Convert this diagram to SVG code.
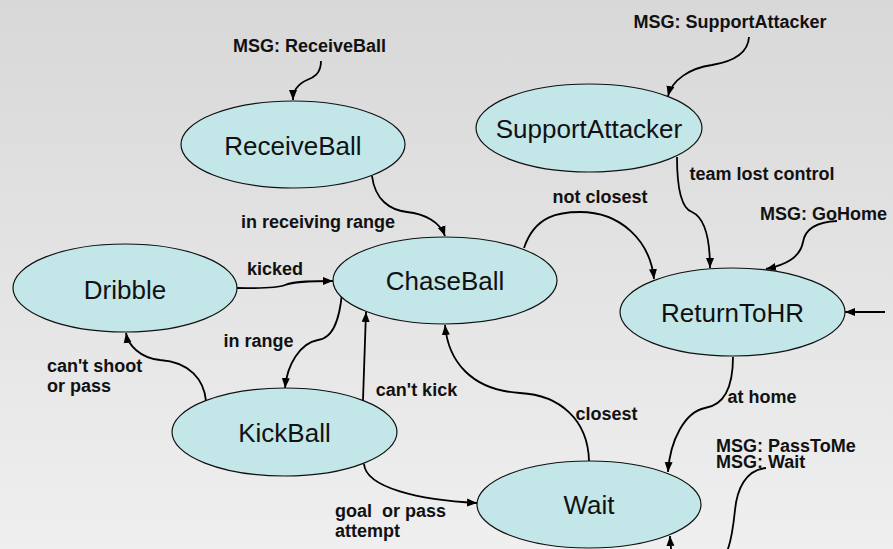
<svg xmlns="http://www.w3.org/2000/svg" width="893" height="549" viewBox="0 0 893 549">
<defs>
<linearGradient id="bg" x1="0" y1="0" x2="0" y2="1">
<stop offset="0" stop-color="#d8d8d8"/>
<stop offset="1" stop-color="#efefef"/>
</linearGradient>
<marker id="arr" markerUnits="userSpaceOnUse" markerWidth="10" markerHeight="10" viewBox="0 0 10 10" refX="10" refY="5" orient="auto">
<path d="M0,1 L10,5 L0,9 Z" fill="#000"/>
</marker>
</defs>
<style>
.node ellipse{fill:#c3e6e9;stroke:#111;stroke-width:1.2}
.node text{font-family:"Liberation Sans",Arial,sans-serif;font-size:26px;fill:#111;text-anchor:middle}
.edge{fill:none;stroke:#000;stroke-width:1.8;marker-end:url(#arr)}
.lbl{font-family:"Liberation Sans",Arial,sans-serif;font-size:18px;font-weight:bold;fill:#111;text-anchor:middle}
.lbls{font-family:"Liberation Sans",Arial,sans-serif;font-size:18px;font-weight:bold;fill:#111;white-space:pre}
</style>
<rect width="893" height="549" fill="url(#bg)"/>

<g id="connectors">
<path class="edge" d="M321,61 C321,75 312,78 307,80 C298,84 293,90 293,100"/>
<path class="edge" d="M749,37 C748,55 730,62 712,65 C690,68 672,80 668,96"/>
<path class="edge" d="M372,176 C375,200 390,210 407,212 C425,214 440,222 445,236"/>
<path class="edge" d="M237,288 C255,288 275,289 285,285 C295,281 315,281 333,281"/>
<path class="edge" d="M342,293 C340,315 335,338 318,340 C300,343 287,365 285,388"/>
<path class="edge" d="M363,400 L366,312"/>
<path class="edge" d="M206,401 C204,380 190,362 160,360 C140,358 128,345 126,333"/>
<path class="edge" d="M364,464 C366,488 420,500 477,503"/>
<path class="edge" d="M589,461 C588,420 560,395 520,393 C470,390 448,360 445,325"/>
<path class="edge" d="M524,248 C535,215 560,212 580,212 C620,212 650,240 654,279"/>
<path class="edge" d="M677,157 C677,185 680,208 692,212 C705,218 710,240 710,268"/>
<path class="edge" d="M837,221 C815,222 805,230 803,242 C800,258 785,265 766,269"/>
<path class="edge" d="M885,312 L845,312"/>
<path class="edge" d="M733,357 C733,385 725,405 705,408 C685,412 670,440 668,472"/>
<path class="edge" d="M766,468 C745,470 737,490 735,510 C732,540 728,570 700,575 C675,578 671,560 670,536"/>
</g>

<g id="labels">
<text class="lbl" x="309.5" y="52">MSG: ReceiveBall</text>
<text class="lbl" x="730" y="28">MSG: SupportAttacker</text>
<text class="lbl" x="762" y="180">team lost control</text>
<text class="lbl" x="600" y="203">not closest</text>
<text class="lbl" x="823.5" y="220">MSG: GoHome</text>
<text class="lbl" x="318" y="228">in receiving range</text>
<text class="lbl" x="275" y="275">kicked</text>
<text class="lbl" x="258.5" y="347">in range</text>
<text class="lbls" x="47" y="372"><tspan x="47" y="372">can't shoot</tspan><tspan x="47" y="392">or pass</tspan></text>
<text class="lbl" x="416.5" y="396">can't kick</text>
<text class="lbl" x="606.5" y="420">closest</text>
<text class="lbl" x="762" y="403">at home</text>
<text class="lbls" x="716" y="452"><tspan x="716" y="452">MSG: PassToMe</tspan><tspan x="716" y="468">MSG: Wait</tspan></text>
<text class="lbls" x="335" y="517"><tspan x="335" y="517">goal  or pass</tspan><tspan x="335" y="537">attempt</tspan></text>
</g>

<g id="ReceiveBall" class="node"><ellipse cx="293" cy="144.5" rx="112" ry="43.5"/><text x="293" y="155">ReceiveBall</text></g>
<g id="SupportAttacker" class="node"><ellipse cx="589" cy="128" rx="113" ry="44"/><text x="589" y="138">SupportAttacker</text></g>
<g id="ChaseBall" class="node"><ellipse cx="445" cy="280.5" rx="112" ry="43.5"/><text x="445" y="290">ChaseBall</text></g>
<g id="Dribble" class="node"><ellipse cx="125" cy="288" rx="112" ry="44"/><text x="125" y="299">Dribble</text></g>
<g id="ReturnToHR" class="node"><ellipse cx="732.5" cy="312" rx="112.5" ry="44"/><text x="732.5" y="322">ReturnToHR</text></g>
<g id="KickBall" class="node"><ellipse cx="284.5" cy="432" rx="112.5" ry="44"/><text x="284.5" y="442">KickBall</text></g>
<g id="Wait" class="node"><ellipse cx="589" cy="504.5" rx="112" ry="43.5"/><text x="589" y="514">Wait</text></g>
</svg>
